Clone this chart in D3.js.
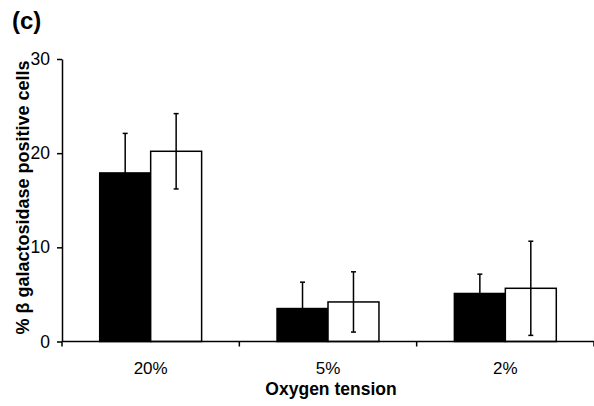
<!DOCTYPE html>
<html><head><meta charset="utf-8">
<script src="https://cdn.jsdelivr.net/npm/d3@7"></script>
<style>body{margin:0;background:#fff}svg{display:block}</style>
</head><body>
<script>
const categories = ["20%", "5%", "2%"];
const seriesNames = ["black", "white"];
const blackValues = [17.9, 3.5, 5.1];
const blackErrors = [4.2, 2.8, 2.05];
const whiteValues = [20.2, 4.2, 5.65];
const whiteErrors = [4.0, 3.2, 5.0];
const yTicks = [0, 10, 20, 30];

const W = 594, H = 406;
const svg = d3.select("body").append("svg").attr("width", W).attr("height", H);
const font = "Liberation Sans, Arial, sans-serif";

const x = d3.scaleBand().domain(categories).range([62, 594]).paddingInner(0).paddingOuter(0);
const y = d3.scaleLinear().domain([0, 30]).range([341.5, 59]);
const inner = d3.scaleBand().domain(seriesNames).range([0, x.bandwidth()]).paddingOuter(0.74).paddingInner(0);

const series = [
  {name: "black", values: blackValues, errors: blackErrors, fill: "#000"},
  {name: "white", values: whiteValues, errors: whiteErrors, fill: "#fff"}
];

// bars
series.forEach(s => {
  const g = svg.append("g");
  categories.forEach((c, i) => {
    const bx = x(c) + inner(s.name);
    g.append("rect")
      .attr("x", bx).attr("y", y(s.values[i]))
      .attr("width", inner.bandwidth()).attr("height", y(0) - y(s.values[i]))
      .attr("fill", s.fill).attr("stroke", "#000").attr("stroke-width", 1.5);
    const cx = bx + inner.bandwidth() / 2;
    const top = y(s.values[i] + s.errors[i]), bot = y(Math.max(0, s.values[i] - s.errors[i]));
    g.append("line").attr("x1", cx).attr("x2", cx).attr("y1", top).attr("y2", bot)
      .attr("stroke", "#000").attr("stroke-width", 1.5);
    [top, bot].forEach(yy => g.append("line").attr("x1", cx - 2.5).attr("x2", cx + 2.5)
      .attr("y1", yy).attr("y2", yy).attr("stroke", "#000").attr("stroke-width", 1.5));
  });
});

// y axis
const yAxis = svg.append("g").attr("transform", "translate(62,0)")
  .call(d3.axisLeft(y).tickValues(yTicks).tickSize(5).tickPadding(7).tickSizeOuter(0));
yAxis.select(".domain").attr("stroke-width", 1.5);
yAxis.selectAll(".tick line").attr("stroke-width", 1.5);
yAxis.selectAll("text").attr("font-family", font).attr("font-size", 17.5).attr("fill", "#000");

// x axis
const xAxis = svg.append("g").attr("transform", `translate(0,${y(0)})`);
xAxis.append("line").attr("x1", 62).attr("x2", 594).attr("y1", 0).attr("y2", 0)
  .attr("stroke", "#000").attr("stroke-width", 1.5);
const boundaries = categories.map(c => x(c)).concat([x(categories[categories.length - 1]) + x.bandwidth()]);
boundaries.forEach(b => xAxis.append("line").attr("x1", b).attr("x2", b).attr("y1", 0).attr("y2", 5)
  .attr("stroke", "#000").attr("stroke-width", 1.5));
categories.forEach(c => xAxis.append("text").attr("x", x(c) + x.bandwidth() / 2).attr("y", 32)
  .attr("text-anchor", "middle").attr("font-family", font).attr("font-size", 17).text(c));

// axis titles
svg.append("text").attr("x", 331).attr("y", 395).attr("text-anchor", "middle")
  .attr("font-family", font).attr("font-size", 17.5).attr("font-weight", "bold").text("Oxygen tension");
svg.append("text").attr("transform", "translate(29,197.5) rotate(-90)").attr("text-anchor", "middle")
  .attr("font-family", font).attr("font-size", 18).attr("font-weight", "bold")
  .text("% β galactosidase positive cells");

svg.append("text").attr("x", 12).attr("y", 29).attr("font-family", font).attr("font-size", 24)
  .attr("font-weight", "bold").text("(c)");
</script>
</body></html>
